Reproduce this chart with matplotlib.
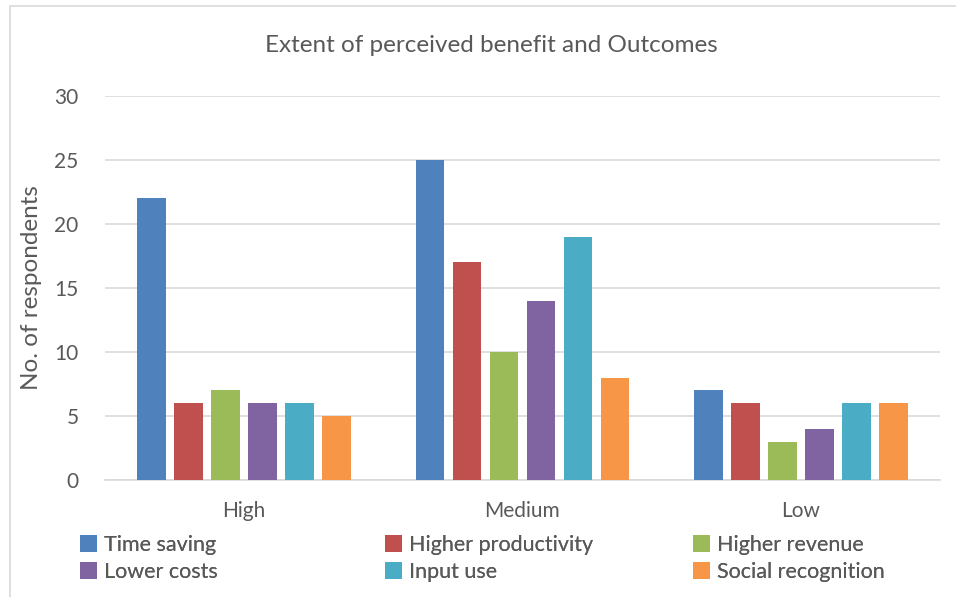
import numpy as np
import matplotlib.pyplot as plt
from matplotlib.patches import Rectangle

categories = ["High", "Medium", "Low"]
series_names = ["Time saving", "Higher productivity", "Higher revenue",
                "Lower costs", "Input use", "Social recognition"]
time_saving = [22, 25, 7]
higher_productivity = [6, 17, 6]
higher_revenue = [7, 10, 3]
lower_costs = [6, 14, 4]
input_use = [6, 19, 6]
social_recognition = [5, 8, 6]
series_values = [time_saving, higher_productivity, higher_revenue,
                 lower_costs, input_use, social_recognition]
colors = ['#4F81BD', '#C0504D', '#9BBB59', '#8064A2', '#4BACC6', '#F79646']

plt.rcParams['font.family'] = ['Lato', 'DejaVu Sans']
text_color = '#595959'

W, H = 956, 597
fig = plt.figure(figsize=(W / 100, H / 100), dpi=100)

# outer chart border (Excel style)
fig.patches.append(Rectangle((10 / W, -0.05), 1.1, (H - 6) / H + 0.05,
                             transform=fig.transFigure, fill=False,
                             edgecolor='#D9D9D9', linewidth=1.2))

ax = fig.add_axes([105 / W, 1 - 480 / H, (940 - 105) / W, (480 - 96) / H])

x = np.arange(len(categories))
pitch = 0.133
width = 0.1025
handles = []
for i, (name, vals) in enumerate(zip(series_names, series_values)):
    offs = (i - 2.5) * pitch
    b = ax.bar(x + offs, vals, width, color=colors[i], label=name, zorder=3)
    handles.append(b)

ax.set_xlim(-0.5, 2.5)
ax.set_ylim(0, 30)
ax.set_yticks(range(0, 31, 5))
ax.set_xticks(x)
ax.set_xticklabels(categories)
ax.yaxis.grid(True, color='#D9D9D9', linewidth=1.2, zorder=0)
ax.tick_params(axis='both', length=0, labelsize=15, colors=text_color)
ax.tick_params(axis='x', pad=15)
ax.tick_params(axis='y', pad=19)
for s in ['top', 'right', 'left']:
    ax.spines[s].set_visible(False)
ax.spines['bottom'].set_color('#D9D9D9')
ax.spines['bottom'].set_linewidth(1.2)

ax.set_ylabel('No. of respondents', fontsize=17.5, color=text_color, labelpad=9)
fig.text(491 / W, 1 - 45 / H, 'Extent of perceived benefit and Outcomes',
         ha='center', va='center', fontsize=17.5, color=text_color)

# one legend per column so each column starts where Excel put it
col_x = [80, 385, 693]
for c in range(3):
    idx = [c, c + 3]
    leg = fig.legend([handles[k] for k in idx], [series_names[k] for k in idx],
                     loc='upper left', bbox_to_anchor=(col_x[c] / W, 1 - 535 / H),
                     ncol=1, frameon=False, fontsize=15.5, handlelength=0.8,
                     handleheight=0.8, handletextpad=0.3, labelspacing=0.33,
                     borderpad=0, borderaxespad=0, labelcolor=text_color)
    fig.add_artist(leg)

fig.savefig('out.png', dpi=100)
